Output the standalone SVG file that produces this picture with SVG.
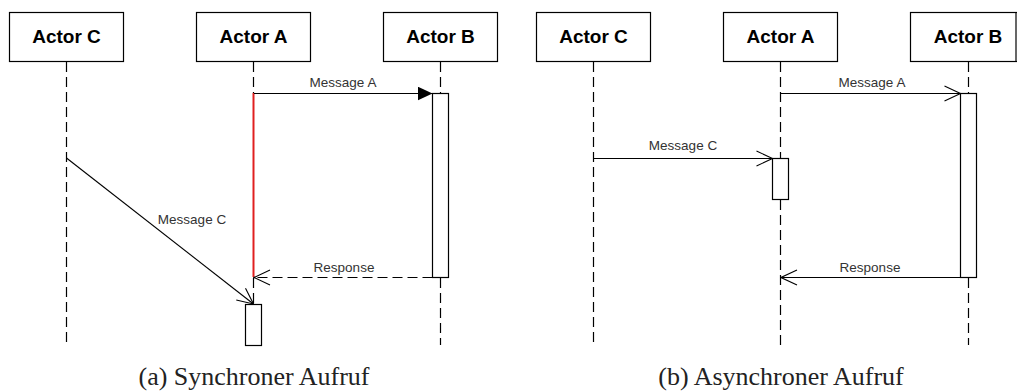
<svg xmlns="http://www.w3.org/2000/svg" width="1017" height="392" viewBox="0 0 1017 392">
  <style>
    .actor { fill: #ffffff; stroke: #000000; stroke-width: 1.2; }
    .actor-label { font-family: "Liberation Sans", Arial, sans-serif; font-weight: bold; font-size: 19px; fill: #000000; text-anchor: middle; }
    .lifeline { fill: none; stroke: #000000; stroke-width: 1.2; stroke-dasharray: 10 5; }
    .activation { fill: #ffffff; stroke: #000000; stroke-width: 1.2; }
    .msg { fill: none; stroke: #000000; stroke-width: 1.1; }
    .msg-dashed { fill: none; stroke: #000000; stroke-width: 1.1; stroke-dasharray: 10 5; }
    .msg-label { font-family: "Liberation Sans", Arial, sans-serif; font-size: 13.5px; fill: #333333; text-anchor: middle; }
    .blocked { fill: none; stroke: #e02020; stroke-width: 2; }
    .caption { font-family: "Liberation Serif", "Times New Roman", serif; font-size: 26px; fill: #222222; text-anchor: middle; }
  </style>
  <defs>
    <marker id="filled" viewBox="0 0 15 14" refX="15" refY="7" markerWidth="15" markerHeight="14" markerUnits="userSpaceOnUse" orient="auto">
      <path d="M0,0 L15,7 L0,14 Z" fill="#000000"/>
    </marker>
    <marker id="open" viewBox="-1 -1 18 17" refX="16" refY="7.5" markerWidth="18" markerHeight="17" markerUnits="userSpaceOnUse" orient="auto">
      <path d="M0,0 L16,7.5 L0,15" fill="none" stroke="#000000" stroke-width="1.1"/>
    </marker>
  </defs>

  <rect width="1017" height="392" fill="#ffffff"/>

  <!-- (a) synchronous call -->
  <g id="sync-actor-c">
    <rect class="actor" x="9.5" y="12.5" width="114" height="49"/>
    <text class="actor-label" x="66.5" y="43">Actor C</text>
    <line class="lifeline" x1="66.5" y1="62" x2="66.5" y2="345"/>
  </g>
  <g id="sync-actor-a">
    <rect class="actor" x="196.5" y="12.5" width="114" height="49"/>
    <text class="actor-label" x="253.5" y="43">Actor A</text>
    <line class="lifeline" x1="253.5" y1="62" x2="253.5" y2="93"/>
    <line class="blocked" x1="253.5" y1="93" x2="253.5" y2="277"/>
    <line class="lifeline" x1="253.5" y1="278" x2="253.5" y2="304"/>
  </g>
  <g id="sync-actor-b">
    <rect class="actor" x="383.5" y="12.5" width="114" height="49"/>
    <text class="actor-label" x="440.5" y="43">Actor B</text>
    <line class="lifeline" x1="440.5" y1="62" x2="440.5" y2="93"/>
    <line class="lifeline" x1="440.5" y1="278" x2="440.5" y2="345"/>
  </g>
  <g id="sync-activation-b">
    <rect class="activation" x="432.5" y="93.5" width="16" height="184"/>
  </g>
  <g id="sync-activation-a">
    <rect class="activation" x="245.5" y="304.5" width="16" height="41"/>
  </g>
  <g id="sync-connectors">
    <line class="msg" x1="254" y1="93.5" x2="432.5" y2="93.5" marker-end="url(#filled)"/>
    <text class="msg-label" x="343" y="87">Message A</text>
    <line class="msg-dashed" x1="432.5" y1="277.5" x2="254" y2="277.5" marker-end="url(#open)"/>
    <text class="msg-label" x="344" y="272">Response</text>
    <line class="msg" x1="66.5" y1="158" x2="253.5" y2="304" marker-end="url(#open)"/>
    <text class="msg-label" x="192" y="224">Message C</text>
  </g>
  <text class="caption" x="254" y="385">(a) Synchroner Aufruf</text>

  <!-- (b) asynchronous call -->
  <g id="async-actor-c">
    <rect class="actor" x="536.5" y="12.5" width="114" height="49"/>
    <text class="actor-label" x="593.5" y="43">Actor C</text>
    <line class="lifeline" x1="593.5" y1="62" x2="593.5" y2="345"/>
  </g>
  <g id="async-actor-a">
    <rect class="actor" x="723.5" y="12.5" width="114" height="49"/>
    <text class="actor-label" x="780.5" y="43">Actor A</text>
    <line class="lifeline" x1="780.5" y1="62" x2="780.5" y2="158"/>
    <line class="lifeline" x1="780.5" y1="200" x2="780.5" y2="345"/>
  </g>
  <g id="async-actor-b">
    <rect class="actor" x="910.5" y="12.5" width="114" height="49"/>
    <line x1="1016" y1="12" x2="1016" y2="62" stroke="#000000" stroke-width="1.2"/>
    <text class="actor-label" x="968" y="43">Actor B</text>
    <line class="lifeline" x1="968.5" y1="62" x2="968.5" y2="93"/>
    <line class="lifeline" x1="968.5" y1="278" x2="968.5" y2="345"/>
  </g>
  <g id="async-activation-b">
    <rect class="activation" x="960.5" y="93.5" width="16" height="184"/>
  </g>
  <g id="async-activation-a">
    <rect class="activation" x="772.5" y="158.5" width="16" height="41"/>
  </g>
  <g id="async-connectors">
    <line class="msg" x1="781" y1="93.5" x2="960.5" y2="93.5" marker-end="url(#open)"/>
    <text class="msg-label" x="872" y="87">Message A</text>
    <line class="msg" x1="593.5" y1="158.5" x2="772.5" y2="158.5" marker-end="url(#open)"/>
    <text class="msg-label" x="683" y="150">Message C</text>
    <line class="msg" x1="960.5" y1="277.5" x2="781" y2="277.5" marker-end="url(#open)"/>
    <text class="msg-label" x="870" y="272">Response</text>
  </g>
  <text class="caption" x="781" y="385">(b) Asynchroner Aufruf</text>
</svg>
